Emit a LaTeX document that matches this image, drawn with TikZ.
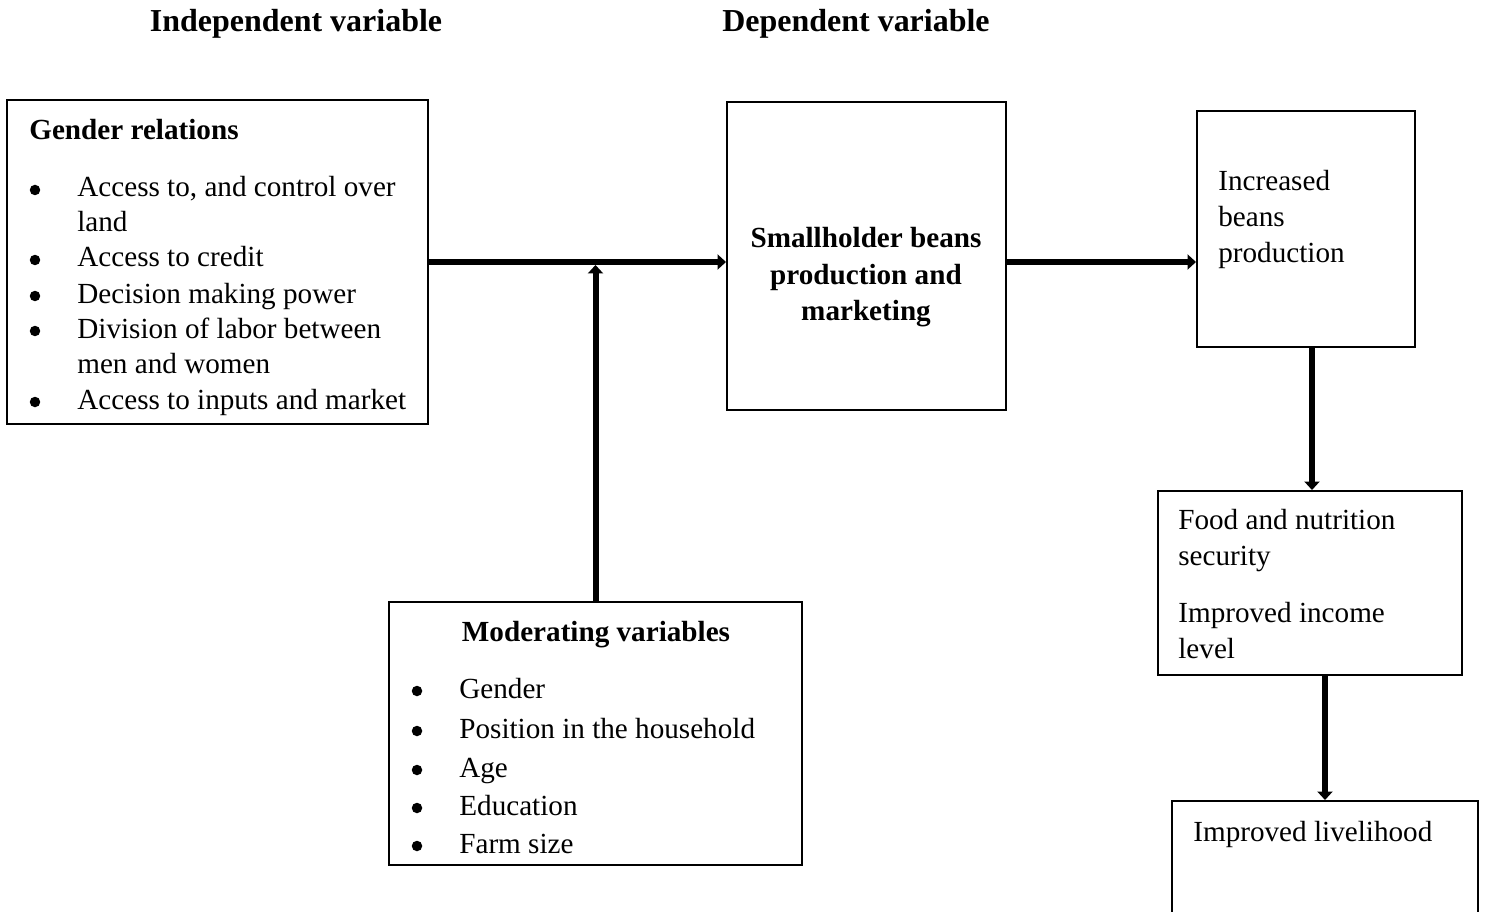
\documentclass[tikz,border=0pt]{standalone}
\usepackage{fontspec}
\setmainfont{Liberation Serif}
\usetikzlibrary{arrows.meta,fit}
\begin{document}
\begin{tikzpicture}[x=0.02cm,y=-0.02cm,
  box/.style={draw=black,line width=0.04cm,inner sep=0pt,fill=none},
  txt/.style={inner sep=0pt,anchor=base west,font=\fontsize{16.6}{20}\selectfont},
  ctxt/.style={inner sep=0pt,anchor=base,font=\fontsize{16.6}{20}\selectfont},
  bold/.style={ctxt,font=\fontsize{16.6}{20}\selectfont\bfseries},
  head/.style={ctxt,font=\fontsize{18.2}{22}\selectfont\bfseries},
  bul/.style={circle,fill=black,draw=none,inner sep=0pt,minimum size=0.21cm},
  arr/.style={line width=0.12cm,-{Triangle[length=0.17cm,width=0.3cm]}}]
\useasboundingbox (0,0) rectangle (1501,912);
% titles
\node[head] (t1) at (296,32) {Independent variable};
\node[head] (t2) at (856,32) {Dependent variable};
% boxes
\node[box,fit={(7,100)(428,424)}] (g) {};
\node[box,fit={(727,102)(1006,410)}] (s) {};
\node[box,fit={(1197,111)(1415,347)}] (i) {};
\node[box,fit={(1158,491)(1462,675)}] (f) {};
\node[box,fit={(1172,801)(1478,940)}] (l) {};
\node[box,fit={(389,602)(802,865)}] (m) {};
% gender relations text
\node[txt,font=\fontsize{16.6}{20}\selectfont\bfseries] (g0) at (29,140) {Gender relations};
\node[bul] (gb1) at (35,190) {};
\node[txt] (g1) at (77,197) {Access to, and control over};
\node[txt] (g1b) at (77,232) {land};
\node[bul] (gb2) at (35,260) {};
\node[txt] (g2) at (77,267) {Access to credit};
\node[bul] (gb3) at (35,296) {};
\node[txt] (g3) at (77,303) {Decision making power};
\node[bul] (gb4) at (35,331) {};
\node[txt] (g4) at (77,338) {Division of labor between};
\node[txt] (g4b) at (77,373) {men and women};
\node[bul] (gb5) at (35,402) {};
\node[txt] (g5) at (77,409) {Access to inputs and market};
% smallholder
\node[bold] (s1) at (866,248) {Smallholder beans};
\node[bold] (s2) at (866,284) {production and};
\node[bold] (s3) at (866,320) {marketing};
% increased
\node[txt] (i1) at (1218,191) {Increased};
\node[txt] (i2) at (1218,227) {beans};
\node[txt] (i3) at (1218,263) {production};
% food
\node[txt] (f1) at (1178,529) {Food and nutrition};
\node[txt] (f2) at (1178,565) {security};
\node[txt] (f3) at (1178,622) {Improved income};
\node[txt] (f4) at (1178,658) {level};
% livelihood
\node[txt] (l1) at (1193,841) {Improved livelihood};
% moderating
\node[bold] (m0) at (596,641) {Moderating variables};
\node[bul] (mb1) at (417,691) {};
\node[txt] (m1) at (459,698) {Gender};
\node[bul] (mb2) at (417,731) {};
\node[txt] (m2) at (459,738) {Position in the household};
\node[bul] (mb3) at (417,770) {};
\node[txt] (m3) at (459,777) {Age};
\node[bul] (mb4) at (417,808) {};
\node[txt] (m4) at (459,815) {Education};
\node[bul] (mb5) at (417,846) {};
\node[txt] (m5) at (459,853) {Farm size};
% arrows
\draw[arr] (g.east) -- (g.east -| s.west);
\draw[arr] (s.east |- g.east) -- (i.west |- g.east);
\draw[arr,shorten >=0.06cm] (m.north) -- (m.north |- g.east);
\draw[arr] ([xshift=0.12cm]i.south) -- ([xshift=0.12cm]i.south |- f.north);
\draw[arr] (l.north |- f.south) -- (l.north);
\end{tikzpicture}
\end{document}
